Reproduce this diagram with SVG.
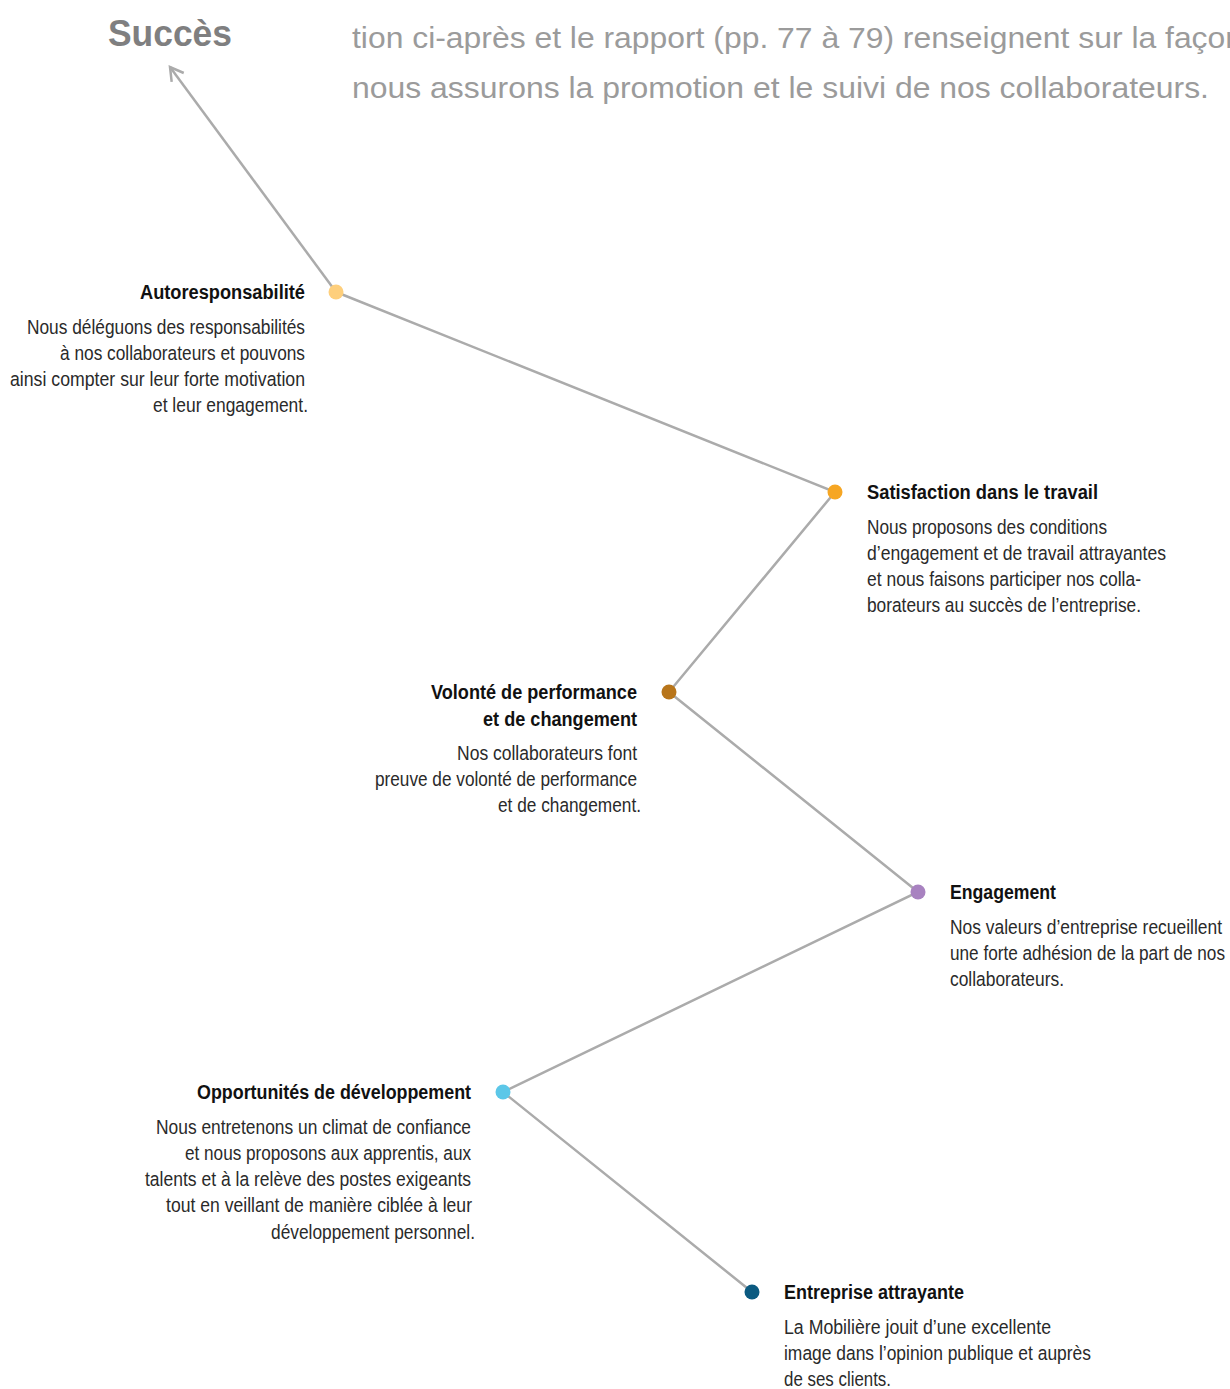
<svg xmlns="http://www.w3.org/2000/svg" width="1230" height="1389" viewBox="0 0 1230 1389">
<style>
.t{font-family:"Liberation Sans",Arial,sans-serif;font-weight:bold;font-size:20px;fill:#111}
.b{font-family:"Liberation Sans",Arial,sans-serif;font-size:20.5px;fill:#2a2a2a}
.r{text-anchor:end}
.head{font-family:"Liberation Sans",Arial,sans-serif;font-size:29px;fill:#9b9b9b}
.succ{font-family:"Liberation Sans",Arial,sans-serif;font-weight:bold;font-size:36px;fill:#7f7f80}
.ln{fill:none;stroke:#ababab;stroke-width:2.5}
</style>
<defs>
<marker id="arr" markerUnits="userSpaceOnUse" markerWidth="40" markerHeight="40" viewBox="-20 -20 40 40" refX="0" refY="0" orient="auto">
<path d="M-13,-7.5 L0,0 L-13,7.5" fill="none" stroke="#ababab" stroke-width="2.5"/>
</marker>
</defs>
<rect width="1230" height="1389" fill="#ffffff"/>

<g id="header">
<text class="succ" x="108" y="46" textLength="124" lengthAdjust="spacingAndGlyphs">Succès</text>
<text class="head" x="352" y="48" textLength="891" lengthAdjust="spacingAndGlyphs">tion ci-après et le rapport (pp. 77 à 79) renseignent sur la façon</text>
<text class="head" x="352" y="98" textLength="857" lengthAdjust="spacingAndGlyphs">nous assurons la promotion et le suivi de nos collaborateurs.</text>
</g>

<g id="connectors">
<line class="ln" x1="336" y1="292" x2="170" y2="67" marker-end="url(#arr)"/>
<polyline class="ln" points="336,292 835,492 669,692 918,892 503,1092 752,1292"/>
</g>

<g id="node-autoresponsabilite">
<circle cx="336" cy="292" r="7.5" fill="#fecf7c"/>
<text class="t r" x="305" y="299" textLength="165" lengthAdjust="spacingAndGlyphs">Autoresponsabilité</text>
<text class="b r" x="305" y="334" textLength="278" lengthAdjust="spacingAndGlyphs">Nous déléguons des responsabilités</text>
<text class="b r" x="305" y="360" textLength="245" lengthAdjust="spacingAndGlyphs">à nos collaborateurs et pouvons</text>
<text class="b r" x="305" y="386" textLength="295" lengthAdjust="spacingAndGlyphs">ainsi compter sur leur forte motivation</text>
<text class="b r" x="308" y="412" textLength="155" lengthAdjust="spacingAndGlyphs">et leur engagement.</text>
</g>

<g id="node-satisfaction">
<circle cx="835" cy="492" r="7.5" fill="#f6a623"/>
<text class="t" x="867" y="499" textLength="231" lengthAdjust="spacingAndGlyphs">Satisfaction dans le travail</text>
<text class="b" x="867" y="534" textLength="240" lengthAdjust="spacingAndGlyphs">Nous proposons des conditions</text>
<text class="b" x="867" y="560" textLength="299" lengthAdjust="spacingAndGlyphs">d’engagement et de travail attrayantes</text>
<text class="b" x="867" y="586" textLength="274" lengthAdjust="spacingAndGlyphs">et nous faisons participer nos colla-</text>
<text class="b" x="867" y="612" textLength="274" lengthAdjust="spacingAndGlyphs">borateurs au succès de l’entreprise.</text>
</g>

<g id="node-volonte">
<circle cx="669" cy="692" r="7.5" fill="#b8751a"/>
<text class="t r" x="637" y="699" textLength="206" lengthAdjust="spacingAndGlyphs">Volonté de performance</text>
<text class="t r" x="637" y="726" textLength="154" lengthAdjust="spacingAndGlyphs">et de changement</text>
<text class="b r" x="637" y="760" textLength="180" lengthAdjust="spacingAndGlyphs">Nos collaborateurs font</text>
<text class="b r" x="637" y="786" textLength="262" lengthAdjust="spacingAndGlyphs">preuve de volonté de performance</text>
<text class="b r" x="641" y="812" textLength="143" lengthAdjust="spacingAndGlyphs">et de changement.</text>
</g>

<g id="node-engagement">
<circle cx="918" cy="892" r="7.5" fill="#a882c0"/>
<text class="t" x="950" y="899" textLength="106" lengthAdjust="spacingAndGlyphs">Engagement</text>
<text class="b" x="950" y="934" textLength="272" lengthAdjust="spacingAndGlyphs">Nos valeurs d’entreprise recueillent</text>
<text class="b" x="950" y="960" textLength="275" lengthAdjust="spacingAndGlyphs">une forte adhésion de la part de nos</text>
<text class="b" x="950" y="986" textLength="114" lengthAdjust="spacingAndGlyphs">collaborateurs.</text>
</g>

<g id="node-opportunites">
<circle cx="503" cy="1092" r="7.5" fill="#5cc7e8"/>
<text class="t r" x="471" y="1099" textLength="274" lengthAdjust="spacingAndGlyphs">Opportunités de développement</text>
<text class="b r" x="471" y="1134" textLength="315" lengthAdjust="spacingAndGlyphs">Nous entretenons un climat de confiance</text>
<text class="b r" x="471" y="1160" textLength="286" lengthAdjust="spacingAndGlyphs">et nous proposons aux apprentis, aux</text>
<text class="b r" x="471" y="1186" textLength="326" lengthAdjust="spacingAndGlyphs">talents et à la relève des postes exigeants</text>
<text class="b r" x="472" y="1212" textLength="306" lengthAdjust="spacingAndGlyphs">tout en veillant de manière ciblée à leur</text>
<text class="b r" x="475" y="1239" textLength="204" lengthAdjust="spacingAndGlyphs">développement personnel.</text>
</g>

<g id="node-entreprise">
<circle cx="752" cy="1292" r="7.5" fill="#0b5a80"/>
<text class="t" x="784" y="1299" textLength="180" lengthAdjust="spacingAndGlyphs">Entreprise attrayante</text>
<text class="b" x="784" y="1334" textLength="267" lengthAdjust="spacingAndGlyphs">La Mobilière jouit d’une excellente</text>
<text class="b" x="784" y="1360" textLength="307" lengthAdjust="spacingAndGlyphs">image dans l’opinion publique et auprès</text>
<text class="b" x="784" y="1386" textLength="107" lengthAdjust="spacingAndGlyphs">de ses clients.</text>
</g>
</svg>
